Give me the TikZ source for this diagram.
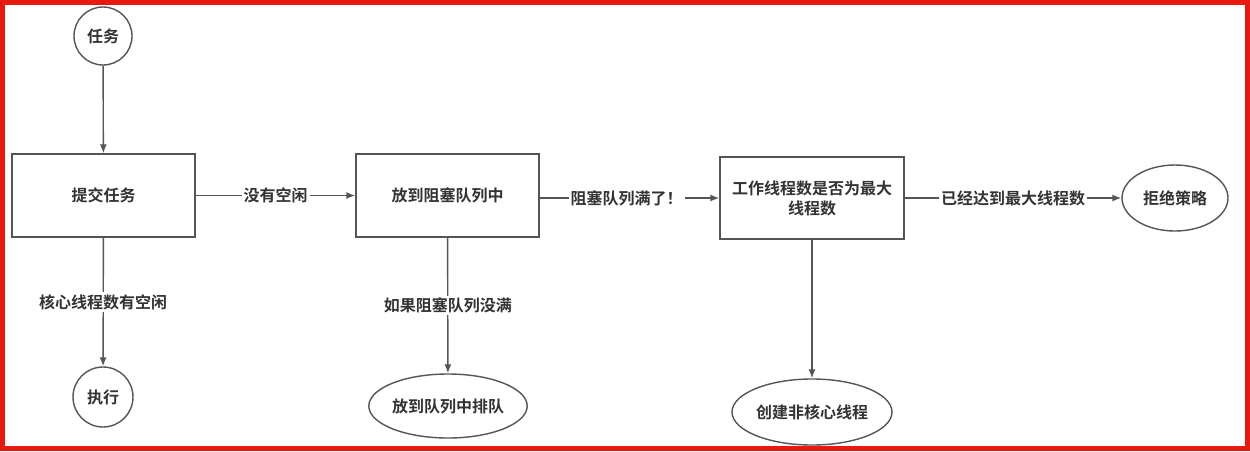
\documentclass[tikz,border=0pt]{standalone}
\usepackage{fontspec}
\setmainfont{Noto Sans CJK SC}[BoldFont={Noto Sans CJK SC Bold}]
\usetikzlibrary{arrows.meta,shapes.geometric}
\definecolor{frame}{HTML}{E8190E}
\definecolor{ln}{HTML}{555555}
\definecolor{tx}{HTML}{333333}
\tikzset{
  base/.style={draw=ln, line width=1.4pt, text=tx, font=\fontsize{16}{20}\selectfont\bfseries, inner sep=0pt},
  boxnode/.style={base, rectangle, minimum width=183pt, minimum height=83pt, align=center},
  circnode/.style={base, circle, minimum size=#1},
  ellnode/.style={base, ellipse},
  conn/.style={draw=ln, line width=1.4pt, -{Latex[length=9pt,width=7pt]}},
  lbl/.style={fill=white, text=tx, font=\fontsize{16}{20}\selectfont\bfseries, inner sep=2pt}
}
\begin{document}
\begin{tikzpicture}[x=1pt,y=-1pt]
\useasboundingbox (0,0) rectangle (1250,451);
\draw[frame, line width=5pt, fill=white] (2.5,2.5) rectangle (1247.5,448.5);

\node[circnode=58pt] (c1) at (103,36) {任务};
\node[boxnode] (b1) at (103.5,195.5) {提交任务};
\node[boxnode] (b2) at (447.5,195.5) {放到阻塞队列中};
\node[boxnode, minimum width=184pt, minimum height=82pt] (b3) at (812,198) {工作线程数是否为最大\\线程数};
\node[circnode=60pt] (e1) at (103,397) {执行};
\node[ellnode, minimum width=150pt, minimum height=64pt] (e2) at (448,406) {放到队列中排队};
\node[ellnode, minimum width=160pt, minimum height=66pt] (e3) at (812,412) {创建非核心线程};
\node[ellnode, minimum width=106pt, minimum height=66pt] (e4) at (1175,198) {拒绝策略};

\draw[conn] (c1) -- (b1);
\draw[conn] (b1) -- node[lbl] {没有空闲} (b2);
\draw[conn] (b2.east |- b3.west) -- node[lbl, xshift=-3pt] {阻塞队列满了！} (b3.west);
\draw[conn] (b3) -- node[lbl] {已经达到最大线程数} (e4);
\draw[conn] (b1) -- node[lbl] {核心线程数有空闲} (e1);
\draw[conn] (b2) -- node[lbl] {如果阻塞队列没满} (e2);
\draw[conn] (b3) -- (e3);
\end{tikzpicture}
\end{document}
